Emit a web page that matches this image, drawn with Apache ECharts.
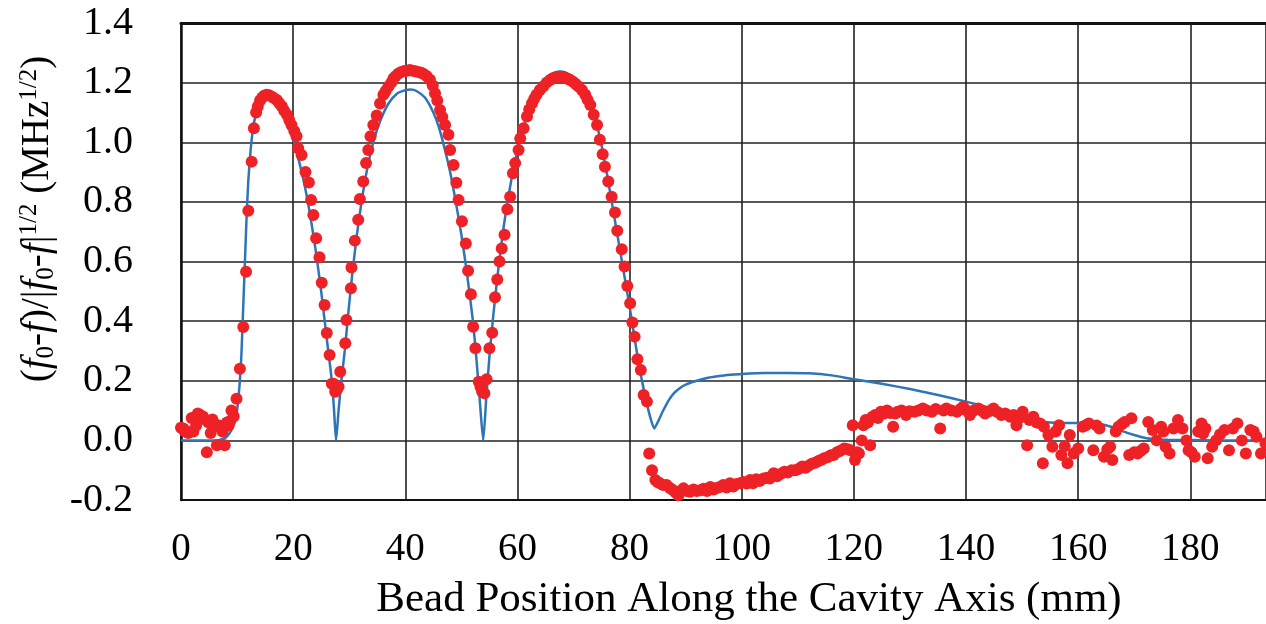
<!DOCTYPE html>
<html>
<head>
<meta charset="utf-8">
<script src="https://cdn.jsdelivr.net/npm/echarts@6/dist/echarts.min.js"></script>
<style>
html,body{margin:0;padding:0;background:#fff;}
#chart{width:1266px;height:624px;}
</style>
</head>
<body>
<div id="chart"></div>
<script>
// x tick values (mm) and y tick values
const xTicks = [0, 20, 40, 60, 80, 100, 120, 140, 160, 180];
const yTicks = [-0.2, 0.0, 0.2, 0.4, 0.6, 0.8, 1.0, 1.2, 1.4];

// Simulated curve (blue line): [position mm, value]
const simulated = [
[0,0],[2,0],[4,0],[6,0],[7,0.002],[8,0.01],[8.5,0.02],[9,0.035],[9.5,0.06],[10,0.1],[10.5,0.2],[10.8,0.3],[11.1,0.45],[11.4,0.6],[11.7,0.75],[12.0,0.87],[12.4,0.97],[12.8,1.04],[13.3,1.09],[14,1.13],[15,1.155],[16,1.16],[17,1.145],[18,1.115],[19,1.07],[20,1.01],[21,0.94],[22,0.86],[23,0.76],[24,0.64],[25,0.5],[26,0.34],[26.9,0.2],[27.3,0.1],[27.65,0.0],[28.1,0.1],[28.6,0.2],[29.2,0.3],[29.8,0.42],[30.5,0.55],[31.3,0.68],[32.2,0.8],[33.2,0.91],[34.3,1.0],[35.5,1.07],[37,1.13],[38.5,1.163],[40,1.175],[41,1.177],[42,1.172],[43.5,1.15],[45,1.1],[46,1.05],[47,0.98],[48,0.9],[49,0.8],[50,0.69],[51,0.56],[52,0.41],[52.7,0.27],[53.3,0.13],[53.9,0.0],[54.4,0.13],[55,0.28],[55.7,0.42],[56.5,0.56],[57.5,0.71],[58.5,0.83],[59.5,0.93],[60.5,1.01],[61.5,1.08],[62.5,1.13],[63.5,1.17],[65,1.21],[66.5,1.232],[67.6,1.237],[68.5,1.234],[70,1.215],[71.5,1.18],[73,1.12],[74,1.07],[75,0.99],[76,0.89],[77,0.78],[78,0.67],[79,0.56],[80,0.45],[81,0.33],[82,0.22],[83,0.13],[83.8,0.07],[84.4,0.04],[85,0.06],[86,0.1],[87,0.135],[88,0.16],[89,0.176],[90,0.187],[92,0.2],[94,0.21],[96,0.216],[98,0.22],[100,0.223],[104,0.226],[108,0.226],[112,0.225],[116,0.218],[120,0.205],[125,0.19],[130,0.172],[135,0.152],[140,0.13],[145,0.105],[150,0.08],[153,0.065],[155,0.06],[158,0.058],[162,0.058],[164,0.055],[166,0.045],[168,0.03],[170,0.018],[172,0.008],[174,0.003],[176,0.002],[180,0.001],[185,0],[190,0],[196,0]
];

// Measured points (red dots): [position mm, value]
const measured = [
[0,0.042],[0.4,0.04],[0.7,0.03],[1.1,0.03],[1.3,0.025],[1.9,0.075],[2.2,0.03],[2.7,0.05],[3.0,0.09],[3.4,0.085],[3.9,0.08],[4.3,0.07],[4.6,-0.04],[4.9,0.06],[5.3,0.025],[5.6,0.07],[6.0,0.055],[6.4,-0.016],[6.8,0.05],[7.0,0.045],[7.4,0.03],[7.8,-0.016],[8.2,0.06],[8.5,0.05],[8.8,0.065],[9.0,0.1],[9.4,0.08],[9.9,0.14],[10.5,0.24],[11.1,0.38],[11.6,0.566],[12.0,0.77],[12.6,0.935],[13.0,1.047],[13.4,1.10],[13.7,1.12],[14.1,1.14],[14.5,1.15],[14.9,1.157],[15.3,1.159],[15.7,1.158],[16.2,1.153],[16.6,1.148],[17.1,1.142],[17.5,1.132],[18.0,1.12],[18.4,1.106],[18.9,1.092],[19.3,1.075],[19.7,1.058],[20.2,1.038],[20.6,1.02],[20.9,0.98],[21.5,0.957],[22.2,0.90],[22.8,0.865],[23.2,0.806],[23.6,0.756],[24.1,0.678],[24.7,0.614],[25.1,0.529],[25.6,0.454],[26.0,0.36],[26.5,0.286],[26.9,0.19],[27.2,0.19],[27.5,0.163],[27.8,0.17],[28.1,0.18],[28.4,0.23],[29.3,0.326],[29.5,0.404],[30.3,0.51],[30.4,0.58],[31.0,0.67],[31.6,0.74],[31.9,0.81],[32.5,0.868],[33.0,0.93],[33.4,0.974],[33.8,1.02],[34.3,1.058],[34.9,1.09],[35.5,1.13],[36.1,1.159],[36.5,1.172],[37.0,1.187],[37.5,1.2],[37.9,1.215],[38.3,1.222],[38.8,1.231],[39.3,1.236],[39.8,1.239],[40.3,1.24],[40.8,1.242],[41.3,1.24],[41.8,1.238],[42.3,1.236],[42.8,1.233],[43.2,1.23],[43.8,1.222],[44.4,1.21],[44.9,1.19],[45.3,1.164],[45.7,1.14],[46.2,1.108],[46.6,1.085],[47.1,1.058],[47.7,1.025],[48.0,0.974],[48.6,0.924],[49.1,0.864],[49.5,0.806],[50.1,0.735],[50.8,0.66],[51.2,0.569],[51.7,0.49],[52.1,0.381],[52.5,0.309],[53.1,0.197],[53.4,0.18],[53.7,0.163],[54.1,0.158],[54.5,0.205],[55.0,0.309],[55.5,0.361],[56.0,0.48],[56.4,0.54],[56.8,0.6],[57.2,0.644],[57.7,0.69],[58.2,0.775],[58.7,0.817],[59.2,0.896],[59.6,0.93],[60.2,0.974],[60.5,1.013],[61.1,1.047],[61.7,1.086],[62.1,1.11],[62.6,1.131],[63.0,1.146],[63.4,1.159],[64.0,1.175],[64.6,1.187],[65.2,1.2],[65.8,1.209],[66.3,1.215],[66.8,1.218],[67.2,1.22],[67.6,1.22],[68.1,1.219],[68.5,1.217],[69.0,1.213],[69.4,1.209],[69.9,1.203],[70.4,1.195],[70.9,1.187],[71.5,1.175],[72.1,1.159],[72.5,1.143],[73.0,1.125],[73.6,1.092],[74.2,1.058],[74.7,1.008],[75.2,0.96],[75.6,0.918],[76.2,0.868],[76.8,0.817],[77.4,0.764],[77.8,0.703],[78.6,0.641],[79.1,0.583],[79.6,0.518],[80.1,0.46],[80.5,0.395],[80.9,0.348],[81.4,0.272],[82.0,0.236],[82.5,0.152],[83.1,0.13],[83.5,-0.044],[84.0,-0.10],[84.6,-0.133],[85.0,-0.14],[85.4,-0.144],[86.0,-0.15],[86.6,-0.15],[87.2,-0.16],[87.8,-0.167],[88.2,-0.175],[88.7,-0.184],[89.2,-0.17],[89.6,-0.161],[90.2,-0.17],[90.8,-0.172],[91.4,-0.165],[92.0,-0.17],[92.6,-0.167],[93.2,-0.162],[93.8,-0.17],[94.4,-0.156],[95.0,-0.165],[95.5,-0.16],[96.1,-0.156],[96.7,-0.15],[97.3,-0.158],[97.9,-0.144],[98.5,-0.155],[99.1,-0.146],[99.7,-0.144],[100.3,-0.14],[100.9,-0.145],[101.5,-0.133],[102.0,-0.144],[102.6,-0.13],[103.2,-0.136],[103.9,-0.128],[104.5,-0.125],[105.0,-0.128],[105.7,-0.11],[106.3,-0.12],[107.0,-0.112],[107.6,-0.105],[108.2,-0.108],[108.9,-0.1],[109.6,-0.1],[110.2,-0.095],[110.8,-0.088],[111.4,-0.092],[111.9,-0.085],[112.5,-0.078],[113.1,-0.075],[113.6,-0.07],[114.1,-0.066],[114.7,-0.06],[115.3,-0.057],[115.9,-0.05],[116.4,-0.049],[117.0,-0.04],[117.6,-0.035],[118.3,-0.027],[118.9,-0.03],[119.4,-0.033],[119.8,0.051],[120.2,-0.066],[120.6,-0.04],[120.9,-0.044],[121.4,0.0],[121.7,0.051],[122.1,0.068],[122.5,0.06],[122.9,-0.016],[123.3,0.079],[123.8,0.085],[124.3,0.075],[124.8,0.096],[125.4,0.09],[125.9,0.1],[126.5,0.092],[127.0,0.046],[127.4,0.09],[127.8,0.096],[128.5,0.1],[129.3,0.085],[129.9,0.098],[130.8,0.096],[131.5,0.1],[132.3,0.107],[133.0,0.1],[133.9,0.096],[134.6,0.105],[135.4,0.04],[136.0,0.1],[136.5,0.107],[137.4,0.1],[138.4,0.096],[139.0,0.105],[139.5,0.113],[140.1,0.1],[140.7,0.085],[141.4,0.1],[142.2,0.107],[142.8,0.1],[143.4,0.09],[144.1,0.098],[144.9,0.107],[145.6,0.095],[146.3,0.085],[147.0,0.09],[147.9,0.079],[148.5,0.085],[149.0,0.051],[149.5,0.075],[150.1,0.096],[150.9,-0.016],[151.3,0.068],[152.0,0.079],[152.6,0.06],[153.2,0.057],[153.7,-0.077],[153.9,0.046],[154.7,0.018],[155.4,-0.021],[156.0,0.03],[156.6,0.051],[157.0,-0.049],[157.6,-0.02],[158.1,-0.077],[158.5,0.018],[159.2,-0.044],[160.0,-0.027],[160.8,0.046],[161.3,0.05],[161.9,0.057],[162.7,-0.033],[163.3,0.05],[163.8,0.04],[164.6,-0.055],[165.2,-0.03],[165.7,-0.021],[166.1,-0.066],[166.7,0.03],[167.2,0.046],[167.8,0.055],[168.3,0.062],[169.1,-0.049],[169.5,0.074],[170.0,-0.04],[170.6,-0.044],[171.2,-0.035],[171.7,-0.027],[172.5,0.062],[173.3,0.035],[174.0,0.0],[174.8,0.046],[175.2,0.03],[175.6,-0.021],[176.3,-0.044],[177.0,0.04],[177.8,0.068],[178.6,0.04],[179.3,0.0],[179.7,-0.033],[180.2,-0.04],[180.8,-0.055],[181.4,0.03],[182.0,0.057],[182.3,0.023],[182.7,0.04],[183.1,-0.06],[183.9,-0.021],[184.6,0.0],[185.3,0.02],[186.1,0.035],[186.9,-0.033],[187.6,0.04],[188.4,0.057],[189.2,0.0],[189.9,-0.044],[190.7,0.035],[191.3,0.03],[191.8,0.012],[192.6,-0.044],[193.4,-0.01]
];

const xTitle = 'Bead Position Along the Cavity Axis (mm)';
const yTitle = '{n|(}{i|f}{sub|0}{n|-}{i|f}{n|)/|}{i|f}{sub|0}{n|-}{i|f}{n||}{sup|1/2}{n| (MHz}{sup|1/2}{n|)}';

const SERIF = '"Liberation Serif", "Times New Roman", serif';
const chart = echarts.init(document.getElementById('chart'), null, {renderer: 'canvas'});
const gridLineColor = '#222';

chart.setOption({
  animation: false,
  backgroundColor: '#fff',
  grid: {left: 181, top: 23, right: 0, bottom: 124, containLabel: false},
  xAxis: [{
    type: 'value', min: 0, max: 193.5, interval: 20,
    axisLine: {show: true, onZero: false, lineStyle: {color: '#111', width: 2}},
    axisTick: {show: false},
    splitLine: {show: true, lineStyle: {color: gridLineColor, width: 1.6}},
    axisLabel: {
      margin: 30, color: '#000', fontFamily: SERIF, fontSize: 39,
      showMaxLabel: false,
      formatter: v => xTicks.indexOf(v) >= 0 ? String(v) : ''
    }
  }, {
    type: 'value', position: 'top', min: 0, max: 193.5,
    axisLine: {show: true, onZero: false, lineStyle: {color: '#111', width: 3}},
    axisTick: {show: false}, axisLabel: {show: false}, splitLine: {show: false}
  }],
  yAxis: {
    type: 'value', min: -0.2, max: 1.4, interval: 0.2,
    axisLine: {show: true, onZero: false, lineStyle: {color: '#111', width: 2.5}},
    axisTick: {show: false},
    splitLine: {show: true, lineStyle: {color: gridLineColor, width: 1.6}},
    axisLabel: {
      margin: 48, color: '#000', fontFamily: SERIF, fontSize: 40,
      formatter: v => {
        const t = yTicks.find(k => Math.abs(k - v) < 1e-6);
        return t === undefined ? '' : t.toFixed(1);
      }
    }
  },
  graphic: [{
    type: 'text', x: 38, y: 219, rotation: Math.PI / 2,
    style: {
      text: yTitle, x: 0, y: 0, align: 'center', verticalAlign: 'middle',
      fill: '#000',
      rich: {
        n: {fontFamily: SERIF, fontSize: 39, lineHeight: 42, fill: '#000'},
        i: {fontFamily: SERIF, fontStyle: 'italic', fontSize: 39, lineHeight: 42, fill: '#000'},
        sub: {fontFamily: SERIF, fontSize: 25, lineHeight: 25, verticalAlign: 'bottom', fill: '#000'},
        sup: {fontFamily: SERIF, fontSize: 25, lineHeight: 25, verticalAlign: 'top', fill: '#000'}
      }
    }
  }, {
    type: 'text', x: 749, y: 600,
    style: {
      text: xTitle, x: 0, y: 0, align: 'center', verticalAlign: 'middle',
      fill: '#000', fontFamily: SERIF, fontSize: 43
    }
  }],
  series: [{
    name: 'Simulation', type: 'line', data: simulated, showSymbol: false,
    smooth: 0.2, lineStyle: {color: '#2E75B6', width: 2.5}, z: 2
  }, {
    name: 'Measurement', type: 'scatter', data: measured,
    symbol: 'circle', symbolSize: 12, itemStyle: {color: '#EE2226', opacity: 1}, z: 3
  }]
});
</script>
</body>
</html>
